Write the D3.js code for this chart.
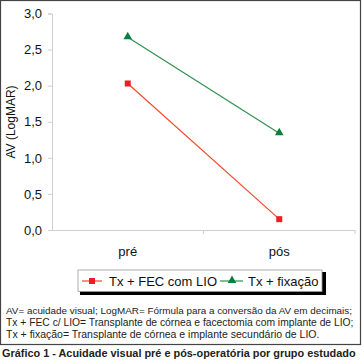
<!DOCTYPE html>
<html><head><meta charset="utf-8">
<script src="https://cdn.jsdelivr.net/npm/d3@7"></script>
<style>body{margin:0;background:#fff}svg{display:block;font-family:"Liberation Sans",Arial,sans-serif}</style>
</head><body>
<script>
const categories = ["pré", "pós"];
const seriesNames = ["Tx + FEC com LIO", "Tx + fixação"];
const fecValues = [2.03, 0.15];
const fixValues = [2.67, 1.34];
const yTicks = [0, 0.5, 1, 1.5, 2, 2.5, 3];
const notes = [
  "AV= acuidade visual; LogMAR= Fórmula para a conversão da AV em decimais;",
  "Tx + FEC c/ LIO= Transplante de córnea e facectomia com implante de LIO;",
  "Tx + fixação= Transplante de córnea e implante secundário de LIO."
];
const title = "Gráfico 1 - Acuidade visual pré e pós-operatória por grupo estudado";

const W = 362, H = 361;
const svg = d3.select("body").append("svg").attr("width", W).attr("height", H);

// fit a text to a target width by font size (no glyph stretching)
function fit(sel, target, start) {
  let fs = start;
  sel.attr("font-size", fs);
  while (sel.node().getComputedTextLength() > target && fs > 6) {
    fs -= 0.1;
    sel.attr("font-size", fs);
  }
  return sel;
}

// outer frame
svg.append("rect").attr("x", 0.5).attr("y", 0.5).attr("width", 360).attr("height", 344)
  .attr("fill", "none").attr("stroke", "#444").attr("stroke-width", 1.2);

const x = d3.scaleBand().domain(categories).range([52, 355]);
const y = d3.scaleLinear().domain([0, 3]).range([230, 13.5]);

const gridCol = "#cfcfcf";
// y axis
const ya = svg.append("g").attr("transform", "translate(52,0)")
  .call(d3.axisLeft(y).tickValues(yTicks).tickSize(4).tickPadding(6)
    .tickFormat(d => d3.format(".1f")(d).replace(".", ",")));
ya.select(".domain").attr("stroke", gridCol);
ya.selectAll(".tick line").attr("stroke", gridCol);
ya.selectAll("text").attr("font-size", 13).attr("fill", "#111").attr("font-family", "Liberation Sans, Arial");

// x axis
const xa = svg.append("g").attr("transform", "translate(0,230)")
  .call(d3.axisBottom(x).tickSize(0).tickPadding(17));
xa.select(".domain").attr("stroke", gridCol);
xa.selectAll("text").attr("font-size", 13).attr("fill", "#111").attr("font-family", "Liberation Sans, Arial");
// category boundary ticks
const bounds = [x.range()[0] + x.bandwidth(), x.range()[1]];
svg.selectAll(".bt").data(bounds).enter().append("line")
  .attr("x1", d => d).attr("x2", d => d).attr("y1", 230).attr("y2", 234)
  .attr("stroke", gridCol);

// y label
svg.append("text").attr("transform", "translate(15,122) rotate(-90)")
  .attr("text-anchor", "middle").attr("font-size", 12).attr("fill", "#111")
  .text("AV (LogMAR)");

const cx = c => x(c) + x.bandwidth() / 2;
const line = d3.line().x((d, i) => cx(categories[i])).y(d => y(d));

const red = "#f04a2c", redM = "#ee1c24", green = "#2e9150", greenM = "#0a8040";
svg.append("path").datum(fecValues).attr("d", line).attr("fill", "none").attr("stroke", red).attr("stroke-width", 1.2);
svg.append("path").datum(fixValues).attr("d", line).attr("fill", "none").attr("stroke", green).attr("stroke-width", 1.2);

svg.selectAll(".sq").data(fecValues).enter().append("rect")
  .attr("x", (d, i) => cx(categories[i]) - 3).attr("y", d => y(d) - 3)
  .attr("width", 6).attr("height", 6).attr("fill", redM);
const tri = d3.symbol().type(d3.symbolTriangle).size(32);
svg.selectAll(".tr").data(fixValues).enter().append("path")
  .attr("d", tri).attr("transform", (d, i) => `translate(${cx(categories[i])},${y(d) - 0.5})`)
  .attr("fill", greenM);

// legend
const lg = svg.append("g");
const ly = 281;
lg.append("rect").attr("x", 80).attr("y", 272).attr("width", 246).attr("height", 23).attr("fill", "#000");
lg.append("rect").attr("x", 78).attr("y", 270).attr("width", 244).attr("height", 21.5)
  .attr("fill", "#fff").attr("stroke", "#999").attr("stroke-width", 0.8);
lg.append("line").attr("x1", 82).attr("x2", 102).attr("y1", ly).attr("y2", ly).attr("stroke", red).attr("stroke-width", 1.2);
lg.append("rect").attr("x", 89).attr("y", ly - 3).attr("width", 6).attr("height", 6).attr("fill", redM);
lg.append("text").attr("x", 109).attr("y", ly + 5).attr("font-size", 13).attr("fill", "#111").text(seriesNames[0]);
lg.append("line").attr("x1", 220).attr("x2", 243).attr("y1", ly).attr("y2", ly).attr("stroke", green).attr("stroke-width", 1.2);
lg.append("path").attr("d", tri).attr("transform", `translate(232,${ly - 0.5})`).attr("fill", greenM);
lg.append("text").attr("x", 248).attr("y", ly + 5).attr("font-size", 13).attr("fill", "#111").text(seriesNames[1]);

// notes
svg.selectAll(".note").data(notes).enter().append("text")
  .attr("x", 6).attr("y", (d, i) => 313.5 + i * 12)
  .attr("fill", "#222").text(d => d)
  .each(function () { fit(d3.select(this), 349, 10.5); });

fit(svg.append("text").attr("x", 2).attr("y", 356.5).attr("font-weight", "bold")
  .attr("fill", "#222").text(title), 355, 12);
</script>
</body></html>
